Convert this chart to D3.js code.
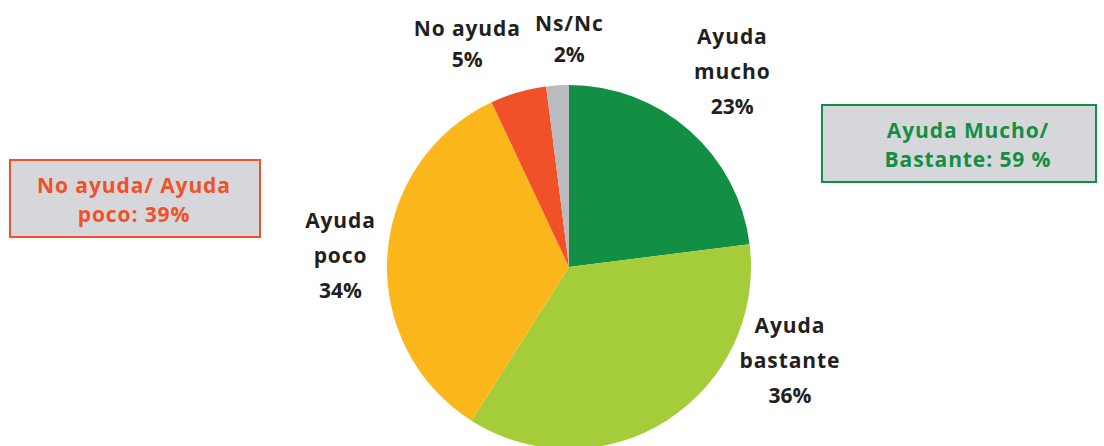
<!DOCTYPE html>
<html>
<head>
<meta charset="utf-8">
<script src="https://cdn.jsdelivr.net/npm/d3@7"></script>
<style>
  body { margin: 0; background: #fff; }
  text { font-family: "Open Sans", "DejaVu Sans", sans-serif; font-weight: bold; }
</style>
</head>
<body>
<div id="chart"></div>
<script>
// data, clockwise from 12 o'clock
var categories = ['Ayuda mucho', 'Ayuda bastante', 'Ayuda poco', 'No ayuda', 'Ns/Nc']
var values = [23, 36, 34, 5, 2]
var labelLines = [['Ayuda', 'mucho'], ['Ayuda', 'bastante'], ['Ayuda', 'poco'], ['No ayuda'], ['Ns/Nc']]
var colors = ['#138f45', '#a5cd39', '#fbb61c', '#f15128', '#b9bbbe']
var summaryLabels = [['No ayuda/ Ayuda', 'poco: 39%'], ['Ayuda Mucho/', 'Bastante: 59 %']]

var width = 1104
var height = 446
var center = { x: 569, y: 267 }
var radius = 182
var labelRadius = 250
// hand nudges so the labels sit where the original put them
var labelNudge = [[-2, -8], [87, -118], [21, 4], [-32, 17], [16, 21]]

var svg = d3.select('#chart').append('svg')
  .attr('width', width)
  .attr('height', height)

var pie = d3.pie().sort(null).value(function (d) { return d })
var arcs = pie(values)
var arc = d3.arc().innerRadius(0).outerRadius(radius)
var labelArc = d3.arc().innerRadius(labelRadius).outerRadius(labelRadius)

var g = svg.append('g')
  .attr('transform', 'translate(' + center.x + ',' + center.y + ')')

g.selectAll('path.slice')
  .data(arcs)
  .enter().append('path')
  .attr('class', 'slice')
  .attr('d', arc)
  .attr('fill', function (d, i) { return colors[i] })

var labels = g.selectAll('text.label')
  .data(arcs)
  .enter().append('text')
  .attr('class', 'label')
  .attr('text-anchor', 'middle')
  .attr('font-size', 21)
  .attr('fill', '#231f20')
  .attr('transform', function (d, i) {
    var c = labelArc.centroid(d)
    return 'translate(' + (c[0] + labelNudge[i][0]) + ',' + (c[1] + labelNudge[i][1]) + ')'
  })

labels.each(function (d, i) {
  var t = d3.select(this)
  var lines = labelLines[i].concat([values[i] + '%'])
  var lh = lines.length === 3 ? 35 : 31
  var y0 = -((lines.length - 1) * lh) / 2 + 8
  lines.forEach(function (line, j) {
    t.append('tspan')
      .attr('x', 0)
      .attr('y', y0 + j * lh)
      .attr('letter-spacing', j < lines.length - 1 ? 0.9 : 0)
      .text(line)
  })
})

// summary boxes
var boxes = [
  { x: 10, y: 160, w: 250, h: 77, color: '#f15128', cx: 134, base: 193 },
  { x: 822, y: 105, w: 274, h: 77, color: '#138f45', cx: 968, base: 138 }
]

boxes.forEach(function (b, i) {
  svg.append('rect')
    .attr('x', b.x)
    .attr('y', b.y)
    .attr('width', b.w)
    .attr('height', b.h)
    .attr('fill', '#d5d7da')
    .attr('stroke', b.color)
    .attr('stroke-width', 2)
  var t = svg.append('text')
    .attr('text-anchor', 'middle')
    .attr('font-size', 21)
    .attr('fill', b.color)
  summaryLabels[i].forEach(function (line, j) {
    t.append('tspan')
      .attr('x', b.cx)
      .attr('y', b.base + j * 29)
      .attr('letter-spacing', 0.9)
      .text(line)
  })
})
</script>
</body>
</html>
